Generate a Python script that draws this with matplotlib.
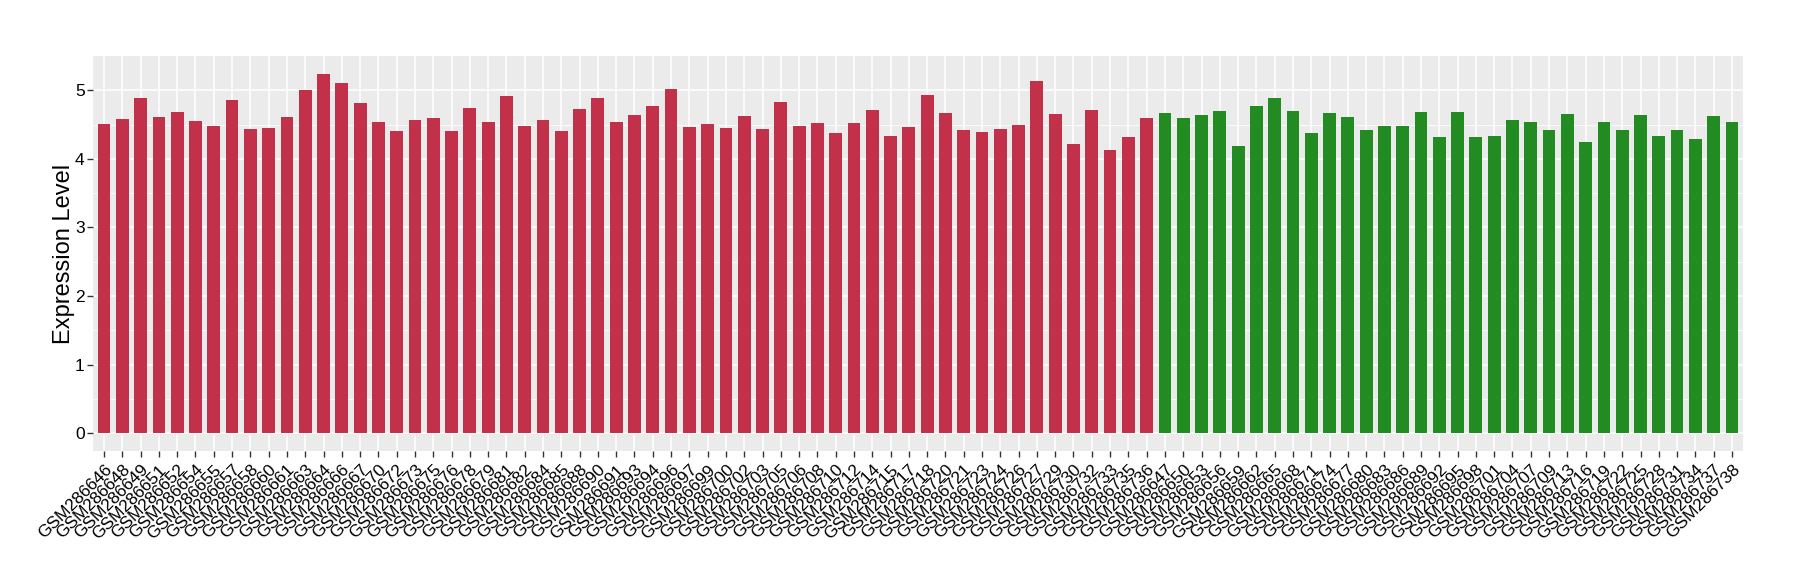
import matplotlib
matplotlib.use('Agg')
import numpy as np
import matplotlib.pyplot as plt

plt.rcParams['font.family'] = ['Liberation Sans', 'DejaVu Sans']

# first group (red)
samples_a = ['GSM286646', 'GSM286648', 'GSM286649', 'GSM286651', 'GSM286652', 'GSM286654',
             'GSM286655', 'GSM286657', 'GSM286658', 'GSM286660', 'GSM286661', 'GSM286663',
             'GSM286664', 'GSM286666', 'GSM286667', 'GSM286670', 'GSM286672', 'GSM286673',
             'GSM286675', 'GSM286676', 'GSM286678', 'GSM286679', 'GSM286681', 'GSM286682',
             'GSM286684', 'GSM286685', 'GSM286688', 'GSM286690', 'GSM286691', 'GSM286693',
             'GSM286694', 'GSM286696', 'GSM286697', 'GSM286699', 'GSM286700', 'GSM286702',
             'GSM286703', 'GSM286705', 'GSM286706', 'GSM286708', 'GSM286710', 'GSM286712',
             'GSM286714', 'GSM286715', 'GSM286717', 'GSM286718', 'GSM286720', 'GSM286721',
             'GSM286723', 'GSM286724', 'GSM286726', 'GSM286727', 'GSM286729', 'GSM286730',
             'GSM286732', 'GSM286733', 'GSM286735', 'GSM286736']
values_a = [4.51, 4.58, 4.89, 4.61, 4.69, 4.55, 4.48, 4.86, 4.44, 4.45,
            4.61, 5.01, 5.24, 5.10, 4.82, 4.54, 4.41, 4.57, 4.60, 4.41,
            4.74, 4.54, 4.91, 4.48, 4.57, 4.41, 4.73, 4.89, 4.54, 4.64,
            4.77, 5.02, 4.47, 4.51, 4.45, 4.63, 4.44, 4.83, 4.48, 4.52,
            4.38, 4.52, 4.72, 4.34, 4.47, 4.93, 4.67, 4.42, 4.39, 4.44,
            4.50, 5.14, 4.66, 4.22, 4.72, 4.13, 4.32, 4.60]

# second group (green)
samples_b = ['GSM286647', 'GSM286650', 'GSM286653', 'GSM286656', 'GSM286659', 'GSM286662',
             'GSM286665', 'GSM286668', 'GSM286671', 'GSM286674', 'GSM286677', 'GSM286680',
             'GSM286683', 'GSM286686', 'GSM286689', 'GSM286692', 'GSM286695', 'GSM286698',
             'GSM286701', 'GSM286704', 'GSM286707', 'GSM286709', 'GSM286713', 'GSM286716',
             'GSM286719', 'GSM286722', 'GSM286725', 'GSM286728', 'GSM286731', 'GSM286734',
             'GSM286737', 'GSM286738']
values_b = [4.67, 4.60, 4.64, 4.70, 4.19, 4.77, 4.89, 4.70, 4.38, 4.67,
            4.61, 4.42, 4.48, 4.48, 4.69, 4.32, 4.69, 4.32, 4.34, 4.57,
            4.54, 4.42, 4.66, 4.25, 4.54, 4.42, 4.64, 4.34, 4.42, 4.29,
            4.63, 4.54]

color_a = '#C33049'
color_b = '#228B22'

labels = samples_a + samples_b
vals = values_a + values_b
colors = [color_a] * len(samples_a) + [color_b] * len(samples_b)
x = np.arange(len(labels))

fig = plt.figure(figsize=(18, 5.8), dpi=100)
ax = fig.add_axes([0.0517, 0.2224, 0.9166, 0.681])
ax.bar(x, vals, width=0.7, color=colors, zorder=2)

ax.set_xlim(-0.6, len(labels) - 0.4)
ax.set_ylim(-0.26, 5.5)
ax.set_facecolor('#EBEBEB')
for s in ax.spines.values():
    s.set_visible(False)

ax.set_yticks(range(6))
ax.set_yticks(np.arange(0.5, 5.5, 1.0), minor=True)
ax.set_axisbelow(True)
ax.grid(which='major', color='white', linewidth=1.1)
ax.grid(which='minor', axis='y', color='white', linewidth=0.55)

ax.set_xticks(x)
ax.set_xticklabels(labels, rotation=45, ha='right', rotation_mode='anchor', fontsize=12.5)
ax.tick_params(axis='both', which='major', length=4, width=1, color='#333333',
               labelcolor='black')
ax.tick_params(axis='y', labelsize=12.5, pad=2)
ax.tick_params(axis='x', pad=4)
ax.tick_params(which='minor', length=0)
ax.set_ylabel('Expression Level', fontsize=17)
ax.yaxis.set_label_coords(-0.011, 0.5)

fig.savefig('out.png', dpi=100)
